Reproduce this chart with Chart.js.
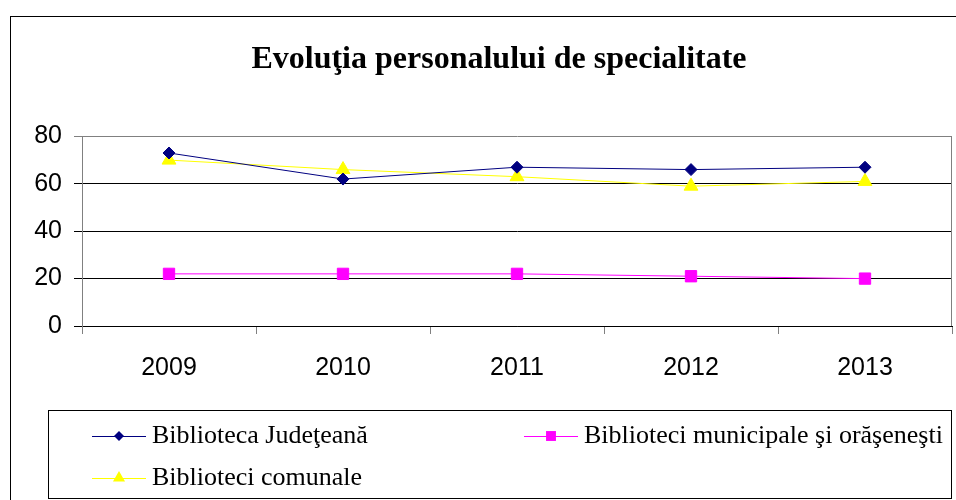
<!DOCTYPE html>
<html>
<head>
<meta charset="utf-8">
<script src="https://cdn.jsdelivr.net/npm/chart.js@4.4.0/dist/chart.umd.min.js"></script>
<style>
  body { margin: 0; background: #fff; }
  #wrap { width: 956px; height: 500px; position: relative; }
</style>
</head>
<body>
<div id="wrap"><canvas id="personalChart"></canvas></div>
<script>
// data
var years = ['2009', '2010', '2011', '2012', '2013'];
var judeteana = [73, 62, 67, 66, 67];
var municipale = [22, 22, 22, 21, 20];
var comunale = [70, 66, 63, 59, 61];
var yTicks = [0, 20, 40, 60, 80];

var serif = '"Liberation Serif", "Times New Roman", serif';
var sans = '"Liberation Sans", Arial, sans-serif';

// marker for the legend symbols
function drawMarker(ctx, style, r, x, y) {
    ctx.beginPath();
    if (style === 'rectRot') {
        ctx.moveTo(x, y - r); ctx.lineTo(x + r, y); ctx.lineTo(x, y + r); ctx.lineTo(x - r, y);
    } else if (style === 'rect') {
        var s = r * Math.SQRT1_2;
        ctx.rect(x - s, y - s, 2 * s, 2 * s);
    } else {
        ctx.moveTo(x, y - r); ctx.lineTo(x + r * 0.866, y + r / 2); ctx.lineTo(x - r * 0.866, y + r / 2);
    }
    ctx.closePath();
    ctx.fill();
}

// outer frame + right border of the plot area
var framePlugin = {
    id: 'frame',
    beforeDraw: function (chart) {
        var ctx = chart.ctx;
        ctx.save();
        ctx.strokeStyle = '#000';
        ctx.lineWidth = 1;
        ctx.strokeRect(10.5, 16.5, 1000, 600);
        ctx.restore();
    },
    beforeDatasetsDraw: function (chart) {
        var a = chart.chartArea, ctx = chart.ctx;
        ctx.save();
        ctx.strokeStyle = '#808080';
        ctx.lineWidth = 1;
        ctx.beginPath();
        ctx.moveTo(Math.round(a.right) - 0.5, a.top);
        ctx.lineTo(Math.round(a.right) - 0.5, a.bottom);
        ctx.stroke();
        ctx.restore();
    }
};

// boxed legend in two columns
var boxLegend = {
    id: 'boxLegend',
    afterDraw: function (chart) {
        var ctx = chart.ctx;
        var cells = [[92, 436], [524, 436], [92, 478]];
        ctx.save();
        ctx.strokeStyle = '#000';
        ctx.lineWidth = 1;
        ctx.strokeRect(48.5, 410.5, 903, 88);
        ctx.font = '26px ' + serif;
        ctx.textBaseline = 'middle';
        chart.data.datasets.forEach(function (ds, i) {
            var x = cells[i][0], y = cells[i][1];
            ctx.strokeStyle = ds.borderColor;
            ctx.fillStyle = ds.pointBackgroundColor;
            ctx.beginPath();
            ctx.moveTo(x, y + 0.5);
            ctx.lineTo(x + 54, y + 0.5);
            ctx.stroke();
            drawMarker(ctx, ds.pointStyle, ds.pointRadius - 1, x + 27, y);
            ctx.fillStyle = '#000';
            ctx.fillText(ds.label, x + 60, y);
        });
        ctx.restore();
    }
};

var ctxPersonal = document.getElementById('personalChart').getContext('2d');
var personalChart = new Chart(ctxPersonal, {
    type: 'line',
    data: {
        labels: years,
        datasets: [{
            label: 'Biblioteca Judeţeană',
            data: judeteana,
            borderColor: '#000080',
            pointBackgroundColor: '#000080',
            pointBorderColor: '#000080',
            pointStyle: 'rectRot',
            pointRadius: 6
        }, {
            label: 'Biblioteci municipale şi orăşeneşti',
            data: municipale,
            borderColor: '#FF00FF',
            pointBackgroundColor: '#FF00FF',
            pointBorderColor: '#FF00FF',
            pointStyle: 'rect',
            pointRadius: 8
        }, {
            label: 'Biblioteci comunale',
            data: comunale,
            borderColor: '#FFFF00',
            pointBackgroundColor: '#FFFF00',
            pointBorderColor: '#FFFF00',
            pointStyle: 'triangle',
            pointRadius: 8
        }]
    },
    options: {
        responsive: true,
        maintainAspectRatio: false,
        animation: false,
        elements: {
            line: { borderWidth: 1, tension: 0 },
            point: { borderWidth: 1 }
        },
        layout: { autoPadding: false, padding: { top: 20, left: 32, right: -10, bottom: 114 } },
        plugins: {
            legend: { display: false },
            tooltip: { enabled: false },
            title: {
                display: true,
                text: 'Evoluţia personalului de specialitate',
                color: '#000',
                font: { family: serif, size: 32, weight: 'bold' },
                padding: { top: 21, bottom: 57 }
            }
        },
        scales: {
            x: {
                offset: true,
                afterFit: function (scale) {
                    scale.height = 60;
                    scale.paddingLeft = 0;
                    scale.paddingRight = 4;
                },
                grid: { drawOnChartArea: false, tickLength: 8, color: '#808080', offset: true },
                border: { color: '#000' },
                ticks: { color: '#000', padding: 19, maxRotation: 0, font: { family: sans, size: 25 } }
            },
            y: {
                min: 0,
                max: 80,
                afterFit: function (scale) { scale.width = 50; },
                afterBuildTicks: function (scale) {
                    scale.ticks = yTicks.map(function (v) { return { value: v }; });
                },
                grid: {
                    tickLength: 8,
                    color: function (c) { return c.tick && c.tick.value === 80 ? '#808080' : '#000'; }
                },
                border: { color: '#808080' },
                ticks: { color: '#000', padding: 12, font: { family: sans, size: 25 } }
            }
        }
    },
    plugins: [framePlugin, boxLegend]
});
</script>
</body>
</html>
